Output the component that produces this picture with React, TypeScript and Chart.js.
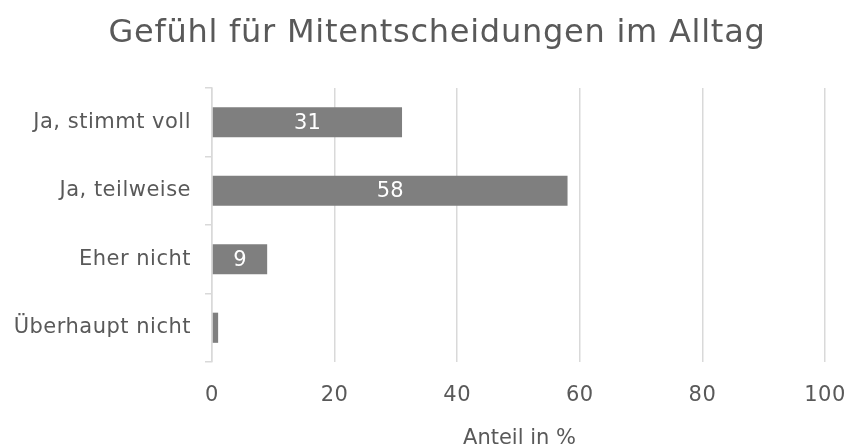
import React, { useEffect, useRef } from "react";
import { Chart, registerables } from "chart.js";

Chart.register(...registerables);

const categories = ["Ja, stimmt voll", "Ja, teilweise", "Eher nicht", "Überhaupt nicht"];
const values = [31, 58, 9, 1];
const xTicks = [0, 20, 40, 60, 80, 100];
const titleText = "Gefühl für Mitentscheidungen im Alltag";
const xTitle = "Anteil in %";

const FONT = "'DejaVu Sans', sans-serif";
const TEXT = "#595959";
const GRID = "#d9d9d9";
const BAR = "#7f7f7f";

const textPlugin = {
  id: "textPlugin",
  beforeDraw(chart: any) {
    const ctx = chart.ctx;
    ctx.letterSpacing = "0.5px";
  },
  afterDatasetsDraw(chart: any) {
    const ctx = chart.ctx;
    const meta = chart.getDatasetMeta(0);
    ctx.save();
    ctx.letterSpacing = "0px";
    ctx.fillStyle = "#ffffff";
    ctx.font = `21px ${FONT}`;
    ctx.textAlign = "center";
    ctx.textBaseline = "middle";
    meta.data.forEach((el: any, i: number) => {
      const v = values[i];
      if (v < 5) return;
      const cx = (el.x + el.base) / 2;
      ctx.fillText(String(v), cx, el.y + 1);
    });
    ctx.restore();
  },
  afterDraw(chart: any) {
    const ctx = chart.ctx;
    const area = chart.chartArea;
    ctx.save();
    ctx.fillStyle = TEXT;
    ctx.textAlign = "center";
    ctx.textBaseline = "alphabetic";
    ctx.letterSpacing = "0.75px";
    ctx.font = `32px ${FONT}`;
    ctx.fillText(titleText, 437, 42);
    ctx.letterSpacing = "0px";
    ctx.font = `21px ${FONT}`;
    ctx.fillText(xTitle, (area.left + area.right) / 2 + 1, 444);
    ctx.restore();
  },
};

export default function App() {
  const ref = useRef<HTMLCanvasElement | null>(null);
  useEffect(() => {
    if (!ref.current) return;
    const chart = new Chart(ref.current, {
      type: "bar",
      data: {
        labels: categories,
        datasets: [
          {
            data: values,
            backgroundColor: BAR,
            borderWidth: 0,
            barPercentage: 0.44,
            categoryPercentage: 1,
          },
        ],
      },
      plugins: [textPlugin],
      options: {
        indexAxis: "y",
        responsive: false,
        animation: false,
        layout: { padding: { left: 0, right: 21, top: 88, bottom: 0 } },
        plugins: {
          legend: { display: false },
          tooltip: { enabled: false },
          title: { display: false },
        },
        scales: {
          x: {
            min: 0,
            max: 100,
            afterBuildTicks: (scale: any) => {
              scale.ticks = xTicks.map((v) => ({ value: v }));
            },
            afterFit: (scale: any) => {
              scale.height = 86;
              scale.paddingLeft = 0;
              scale.paddingRight = 0;
            },
            grid: { color: GRID, lineWidth: 1.5, drawTicks: false },
            border: { display: false },
            ticks: {
              color: TEXT,
              padding: 21,
              font: { family: FONT, size: 21 },
            },
          },
          y: {
            afterFit: (scale: any) => {
              scale.width = 212;
              scale.paddingTop = 0;
              scale.paddingBottom = 0;
            },
            grid: {
              offset: true,
              drawOnChartArea: false,
              drawTicks: true,
              tickLength: 7,
              color: GRID,
              lineWidth: 1.5,
            },
            border: { display: true, color: GRID, width: 1.5 },
            ticks: {
              color: TEXT,
              padding: 14,
              font: { family: FONT, size: 21 },
            },
          },
        },
      },
    });
    return () => chart.destroy();
  }, []);
  return (
    <div style={{ position: "absolute", left: 0, top: 0, width: 846, height: 448 }}>
      <canvas ref={ref} width={846} height={448} style={{ display: "block" }} />
    </div>
  );
}
